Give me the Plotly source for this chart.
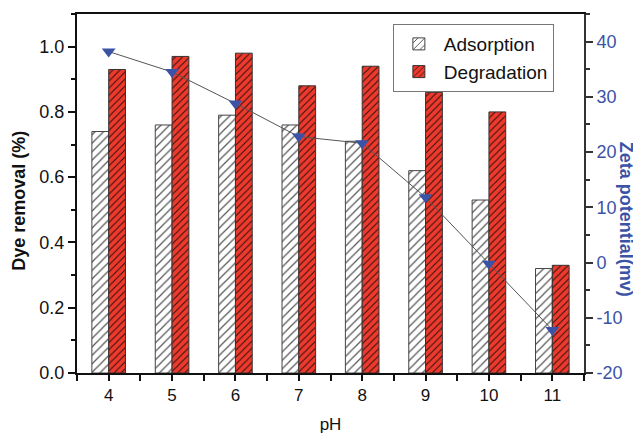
import plotly.graph_objects as go

ph = [4, 5, 6, 7, 8, 9, 10, 11]
adsorption = [0.74, 0.76, 0.79, 0.76, 0.71, 0.62, 0.53, 0.32]
degradation = [0.93, 0.97, 0.98, 0.88, 0.94, 0.86, 0.80, 0.33]
zeta = [38.2, 34.5, 28.8, 22.8, 21.6, 11.8, -0.2, -12.2]

left_ticks = [0.0, 0.2, 0.4, 0.6, 0.8, 1.0]
right_ticks = [-20, -10, 0, 10, 20, 30, 40]

FONT = "Arial, Liberation Sans, sans-serif"
BLUE = "#3a53a6"
RED = "#ee3a2c"

fig = go.Figure()
fig.add_trace(go.Bar(
    x=ph, y=adsorption, name="Adsorption",
    marker=dict(color="white", line=dict(color="#444", width=1),
                pattern=dict(shape="/", fgcolor="#555", bgcolor="white",
                             size=6, solidity=0.2, fillmode="replace")),
))
fig.add_trace(go.Bar(
    x=ph, y=degradation, name="Degradation",
    marker=dict(color=RED, line=dict(color="#333", width=1),
                pattern=dict(shape="/", fgcolor="#2a1010", bgcolor=RED,
                             size=5, solidity=0.2, fillmode="replace")),
))
fig.add_trace(go.Scatter(
    x=ph, y=zeta, yaxis="y2", mode="lines+markers", showlegend=False,
    line=dict(color="#555", width=1),
    marker=dict(symbol="triangle-down", size=12, color=BLUE),
))

# page body has an 8px margin: size the figure so the plot lands where the reference has it
fig.update_layout(
    width=641, height=427,
    margin=dict(l=69, r=65, t=4, b=61),
    paper_bgcolor="white", plot_bgcolor="white",
    font=dict(family=FONT, size=17, color="#111"),
    barmode="group", bargap=0.47, bargroupgap=0,
    showlegend=True,
    legend=dict(x=0.623, y=0.972, xanchor="left", yanchor="top",
                bordercolor="#777", borderwidth=1, bgcolor="white",
                font=dict(size=19, family=FONT), tracegroupgap=0,
                itemwidth=40),
    xaxis=dict(range=[3.5, 11.5], tickmode="array", tickvals=ph,
               ticktext=[str(p) for p in ph],
               showline=True, linecolor="#111", linewidth=2, mirror=True,
               ticks="outside", ticklen=6, tickwidth=1.5, tickcolor="#111",
               minor=dict(tickmode="array", tickvals=[p + 0.5 for p in ph[:-1]] + [3.5, 11.5],
                          ticks="outside", ticklen=6, tickwidth=1.5, tickcolor="#111"),
               showgrid=False, zeroline=False,
               tickfont=dict(size=17),
               title=dict(text="pH", font=dict(size=17), standoff=14)),
    yaxis=dict(range=[0, 1.1], tickmode="array", tickvals=left_ticks,
               ticktext=[f"{v:.1f}" for v in left_ticks],
               showline=True, linecolor="#111", linewidth=2,
               ticks="outside", ticklen=7, tickwidth=1.5, tickcolor="#111",
               minor=dict(dtick=0.1, tick0=0, ticks="outside", ticklen=4,
                          tickwidth=1.5, tickcolor="#111"),
               showgrid=False, zeroline=False, tickfont=dict(size=18)),
    yaxis2=dict(range=[-20, 45], overlaying="y", side="right",
                tickmode="array", tickvals=right_ticks,
                ticktext=[str(v) for v in right_ticks],
                showline=True, linecolor="#333", linewidth=2,
                ticks="outside", ticklen=7, tickwidth=1.5, tickcolor="#333",
                minor=dict(dtick=5, tick0=0, ticks="outside", ticklen=4,
                           tickwidth=1.5, tickcolor="#333"),
                showgrid=False, zeroline=False,
                tickfont=dict(size=18, color=BLUE)),
    annotations=[
        dict(text="<b>Dye removal (%)</b>", xref="paper", yref="paper",
             x=-0.116, y=0.48, xanchor="center", yanchor="middle",
             textangle=-90, showarrow=False,
             font=dict(size=18, color="#111", family=FONT)),
        dict(text="<b>Zeta potential(mv)</b>", xref="paper", yref="paper",
             x=1.082, y=0.428, xanchor="center", yanchor="middle",
             textangle=90, showarrow=False,
             font=dict(size=18, color=BLUE, family=FONT)),
    ],
)

fig.write_html("out.html")
